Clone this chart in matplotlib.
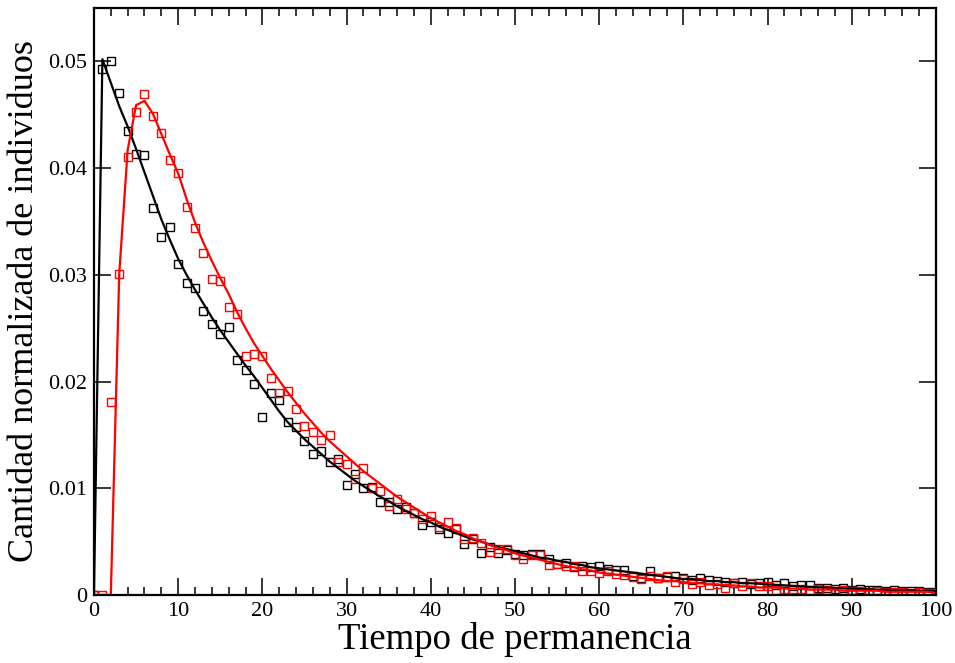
import matplotlib
matplotlib.use("Agg")
import matplotlib.pyplot as plt
from matplotlib.ticker import MultipleLocator, FixedLocator

plt.rcParams["font.family"] = ["Liberation Serif", "DejaVu Serif"]

# Time axis (integer steps 0..100)
t = list(range(0, 101))

# Measured distribution, series 1 (black squares)
black_pts = [
    0.0000, 0.0493, 0.0500, 0.0470, 0.0435, 0.0413, 0.0412, 0.0363, 0.0335, 0.0345,
    0.0310, 0.0292, 0.0288, 0.0266, 0.0254, 0.0245, 0.0251, 0.0220, 0.0211, 0.0198,
    0.0167, 0.0189, 0.0183, 0.0162, 0.0157, 0.0144, 0.0132, 0.0135, 0.0125, 0.0127,
    0.0103, 0.0113, 0.0100, 0.0101, 0.0087, 0.0087, 0.0081, 0.0082, 0.0077, 0.0066,
    0.0068, 0.0062, 0.0058, 0.0062, 0.0048, 0.0052, 0.0039, 0.0045, 0.0039, 0.0042,
    0.0038, 0.0037, 0.0038, 0.0038, 0.0034, 0.0029, 0.0030, 0.0026, 0.0027, 0.0026,
    0.0027, 0.0024, 0.0023, 0.0023, 0.0018, 0.0016, 0.0022, 0.0016, 0.0017, 0.0018,
    0.0016, 0.0014, 0.0016, 0.0014, 0.0013, 0.0012, 0.0011, 0.0012, 0.0010, 0.0011,
    0.0012, 0.0009, 0.0011, 0.0008, 0.0009, 0.0009, 0.0007, 0.0007, 0.0006, 0.0007,
    0.0005, 0.0006, 0.0005, 0.0005, 0.0004, 0.0005, 0.0004, 0.0004, 0.0004, 0.0003,
    0.0003,
]

# Measured distribution, series 2 (red squares)
red_pts = [
    0.0000, 0.0000, 0.0181, 0.0301, 0.0410, 0.0453, 0.0469, 0.0449, 0.0433, 0.0408,
    0.0395, 0.0364, 0.0344, 0.0320, 0.0296, 0.0294, 0.0270, 0.0263, 0.0224, 0.0226,
    0.0224, 0.0203, 0.0189, 0.0191, 0.0174, 0.0158, 0.0153, 0.0145, 0.0150, 0.0125,
    0.0123, 0.0109, 0.0119, 0.0100, 0.0097, 0.0083, 0.0090, 0.0081, 0.0077, 0.0071,
    0.0074, 0.0064, 0.0068, 0.0063, 0.0052, 0.0053, 0.0049, 0.0040, 0.0043, 0.0043,
    0.0037, 0.0034, 0.0037, 0.0037, 0.0028, 0.0029, 0.0027, 0.0027, 0.0022, 0.0022,
    0.0021, 0.0022, 0.0020, 0.0019, 0.0017, 0.0015, 0.0018, 0.0016, 0.0018, 0.0012,
    0.0015, 0.0010, 0.0012, 0.0009, 0.0010, 0.0007, 0.0011, 0.0008, 0.0011, 0.0008,
    0.0008, 0.0005, 0.0006, 0.0006, 0.0006, 0.0005, 0.0006, 0.0005, 0.0004, 0.0005,
    0.0004, 0.0004, 0.0003, 0.0004, 0.0003, 0.0003, 0.0003, 0.0002, 0.0003, 0.0002,
    0.0002,
]

# Fitted curve, series 1 (black line)
black_fit = [
    0.0000, 0.0502, 0.0480, 0.0458, 0.0439, 0.0418, 0.0396, 0.0374, 0.0352, 0.0333,
    0.0315, 0.0300, 0.0286, 0.0273, 0.0260, 0.0248, 0.0237, 0.0226, 0.0215, 0.0205,
    0.0194, 0.0183, 0.0172, 0.0162, 0.0154, 0.0146, 0.0139, 0.0132, 0.0125, 0.0119,
    0.0113, 0.0107, 0.0102, 0.0097, 0.0092, 0.0088, 0.0083, 0.0079, 0.0075, 0.0071,
    0.0068, 0.0064, 0.0061, 0.0058, 0.0055, 0.0052, 0.0050, 0.0047, 0.0045, 0.0043,
    0.0041, 0.0039, 0.0037, 0.0035, 0.0034, 0.0032, 0.0031, 0.0029, 0.0028, 0.0026,
    0.0025, 0.0024, 0.0023, 0.0022, 0.0021, 0.0020, 0.0019, 0.0018, 0.0017, 0.0016,
    0.0015, 0.0015, 0.0014, 0.0013, 0.0013, 0.0012, 0.0012, 0.0011, 0.0011, 0.00105,
    0.0010, 0.00095, 0.0009, 0.00085, 0.0008, 0.00076, 0.00072, 0.00068, 0.00065, 0.00062,
    0.00059, 0.00056, 0.00053, 0.0005, 0.00048, 0.00046, 0.00044, 0.00042, 0.0004, 0.00038,
    0.00036,
]

# Fitted curve, series 2 (red line)
red_fit = [
    0.0000, 0.0000, 0.0000, 0.0301, 0.0417, 0.0459, 0.0463, 0.0451, 0.0432, 0.0413,
    0.0395, 0.0371, 0.0349, 0.0330, 0.0313, 0.0297, 0.0282, 0.0265, 0.0250, 0.0236,
    0.0224, 0.0212, 0.0201, 0.0190, 0.0180, 0.0170, 0.0161, 0.0152, 0.0144, 0.0137,
    0.0130, 0.0123, 0.0116, 0.0110, 0.0104, 0.0098, 0.0092, 0.0087, 0.0082, 0.0077,
    0.0072, 0.0068, 0.0064, 0.0060, 0.0057, 0.0053, 0.0050, 0.0047, 0.0044, 0.0042,
    0.0039, 0.0037, 0.0035, 0.0033, 0.0031, 0.0029, 0.0027, 0.0026, 0.0024, 0.0023,
    0.0021, 0.0020, 0.0019, 0.0018, 0.0017, 0.0016, 0.0015, 0.0014, 0.0013, 0.0013,
    0.0012, 0.0011, 0.0011, 0.0010, 0.0010, 0.0009, 0.0009, 0.0008, 0.0008, 0.0007,
    0.0007, 0.0007, 0.0006, 0.0006, 0.0006, 0.0005, 0.0005, 0.0005, 0.0005, 0.0004,
    0.0004, 0.0004, 0.0004, 0.0004, 0.0003, 0.0003, 0.0003, 0.0003, 0.0003, 0.0003,
    0.0002,
]

y_ticks = [0.0, 0.01, 0.02, 0.03, 0.04, 0.05]
y_tick_labels = ["0", "0.01", "0.02", "0.03", "0.04", "0.05"]
x_tick_labels = ["0", "10", "20", "30", "40", "50", "60", "70", "80", "90", "100"]

fig = plt.figure(figsize=(9.55, 6.63), dpi=100)
ax = fig.add_axes([0.0984, 0.1026, 0.8817, 0.8853])

mk = dict(marker="s", markersize=5.2, markerfacecolor="none", markeredgewidth=1.0,
          linestyle="none")
ax.plot(t, black_pts, markeredgecolor="black", **mk)
ax.plot(t, red_pts, markeredgecolor="red", **mk)
ax.plot(t, black_fit, color="black", linewidth=1.6)
ax.plot(t, red_fit, color="red", linewidth=1.6)

ax.set_xlim(0, 100)
ax.set_ylim(0, 0.055)

ax.xaxis.set_major_locator(FixedLocator(list(range(0, 101, 10))))
ax.set_xticklabels(x_tick_labels)
ax.xaxis.set_minor_locator(MultipleLocator(2))
ax.yaxis.set_major_locator(FixedLocator(y_ticks))
ax.set_yticklabels(y_tick_labels)

ax.tick_params(which="both", direction="in", top=True, right=True, width=1.1,
               labelsize=16)
ax.tick_params(which="major", length=12.5)
ax.tick_params(which="minor", length=6)
ax.tick_params(axis="x", which="major", pad=5)
ax.tick_params(axis="y", which="major", pad=5)

for s in ax.spines.values():
    s.set_linewidth(1.6)

ax.set_xlabel("Tiempo de permanencia", fontsize=26.5, labelpad=1)
ax.set_ylabel("Cantidad normalizada de individuos", fontsize=26, labelpad=5)

fig.savefig("out.png", dpi=100)
